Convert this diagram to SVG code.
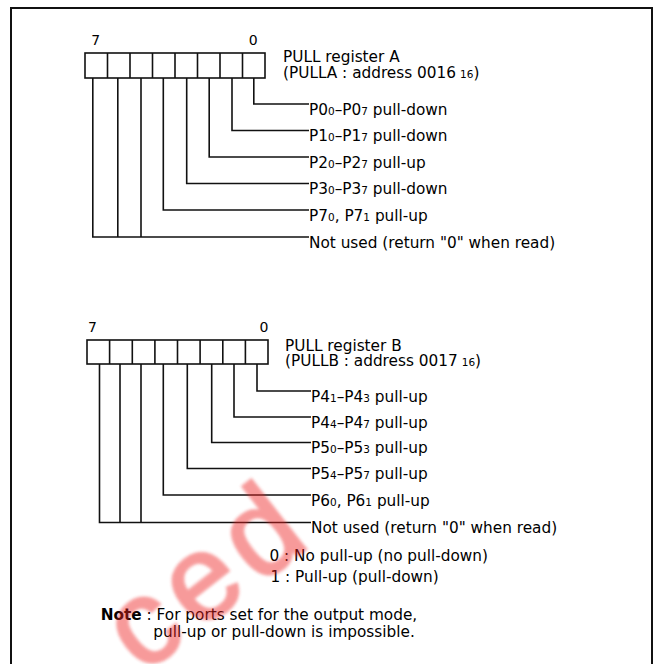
<svg xmlns="http://www.w3.org/2000/svg" width="658" height="664" viewBox="0 0 658 664">
<style>
text{font-family:"DejaVu Sans","Liberation Sans",sans-serif;font-size:15.3px;fill:#000}
.bit{font-size:14px;text-anchor:middle}
.sub{font-size:10.5px}
.ln{fill:none;stroke:#111;stroke-width:1.6}
.box{fill:#fff;stroke:#111;stroke-width:1.6}
.wm{font-family:"Liberation Sans",sans-serif;font-size:120px;fill:#ee2424;stroke:#ee2424;stroke-width:3;opacity:0.45}
</style>
<defs>
  <filter id="soft" x="-10%" y="-10%" width="120%" height="120%"><feGaussianBlur stdDeviation="1.5"/></filter>
</defs>
<rect x="0" y="0" width="658" height="664" fill="#fff"/>
<rect x="11" y="8" width="641" height="680" fill="none" stroke="#111" stroke-width="2"/>

<g id="connectors">
  <path class="ln" d="M253.8 78V104H309"/>
  <path class="ln" d="M232 78V130.5H309"/>
  <path class="ln" d="M209.2 78V157H309"/>
  <path class="ln" d="M186.7 78V183.5H309"/>
  <path class="ln" d="M163.3 78V210H309"/>
  <path class="ln" d="M92.8 78V237H309M117.8 78V237M141 78V237"/>
  <path class="ln" d="M257 364V391H311"/>
  <path class="ln" d="M234 364V417H311"/>
  <path class="ln" d="M211.7 364V442.5H311"/>
  <path class="ln" d="M187.3 364V468.5H311"/>
  <path class="ln" d="M163.3 364V495H311"/>
  <path class="ln" d="M99.5 364V522.5H311M120 364V522.5M141 364V522.5"/>
</g>

<g id="registerA">
  <text class="bit" x="95.8" y="45">7</text>
  <text class="bit" x="253.2" y="45">0</text>
  <rect class="box" x="85" y="53" width="180" height="25"/>
  <path class="ln" d="M107.5 53V78M130 53V78M152.5 53V78M175 53V78M197.5 53V78M220 53V78M242.5 53V78"/>
  <text x="283" y="62">PULL register A</text>
  <text x="283" y="77.5">(PULLA : address 0016<tspan class="sub" dx="4">16</tspan>)</text>
</g>
<g id="a-bit0"><text x="309" y="114.5">P0<tspan class="sub">0</tspan>–P0<tspan class="sub">7</tspan> pull-down</text></g>
<g id="a-bit1"><text x="309" y="141">P1<tspan class="sub">0</tspan>–P1<tspan class="sub">7</tspan> pull-down</text></g>
<g id="a-bit2"><text x="309" y="167.5">P2<tspan class="sub">0</tspan>–P2<tspan class="sub">7</tspan> pull-up</text></g>
<g id="a-bit3"><text x="309" y="194">P3<tspan class="sub">0</tspan>–P3<tspan class="sub">7</tspan> pull-down</text></g>
<g id="a-bit4"><text x="309" y="220.5">P7<tspan class="sub">0</tspan>, P7<tspan class="sub">1</tspan> pull-up</text></g>
<g id="a-bit567"><text x="309" y="247.5">Not used (return "0" when read)</text></g>

<g id="registerB">
  <text class="bit" x="92.5" y="332">7</text>
  <text class="bit" x="264" y="332">0</text>
  <rect class="box" x="87" y="340" width="181" height="24"/>
  <path class="ln" d="M109.6 340V364M132.3 340V364M154.9 340V364M177.5 340V364M200.1 340V364M222.8 340V364M245.4 340V364"/>
  <text x="285" y="350.5">PULL register B</text>
  <text x="285" y="366">(PULLB : address 0017<tspan class="sub" dx="4">16</tspan>)</text>
</g>
<g id="b-bit0"><text x="311" y="401.5">P4<tspan class="sub">1</tspan>–P4<tspan class="sub">3</tspan> pull-up</text></g>
<g id="b-bit1"><text x="311" y="427.5">P4<tspan class="sub">4</tspan>–P4<tspan class="sub">7</tspan> pull-up</text></g>
<g id="b-bit2"><text x="311" y="453">P5<tspan class="sub">0</tspan>–P5<tspan class="sub">3</tspan> pull-up</text></g>
<g id="b-bit3"><text x="311" y="479">P5<tspan class="sub">4</tspan>–P5<tspan class="sub">7</tspan> pull-up</text></g>
<g id="b-bit4"><text x="311" y="505.5">P6<tspan class="sub">0</tspan>, P6<tspan class="sub">1</tspan> pull-up</text></g>
<g id="b-bit567"><text x="311" y="533">Not used (return "0" when read)</text></g>

<g id="legend">
  <text x="269.5" y="561">0 : No pull-up (no pull-down)</text>
  <text x="270.5" y="582">1 : Pull-up (pull-down)</text>
</g>
<g id="note">
  <text x="100.7" y="620"><tspan font-weight="bold">Note</tspan> : For ports set for the output mode,</text>
  <text x="153.3" y="636.5">pull-up or pull-down is impossible.</text>
</g>
<text class="wm" x="143" y="675" letter-spacing="10" transform="rotate(-38 143 675)" filter="url(#soft)">ced</text>
</svg>
